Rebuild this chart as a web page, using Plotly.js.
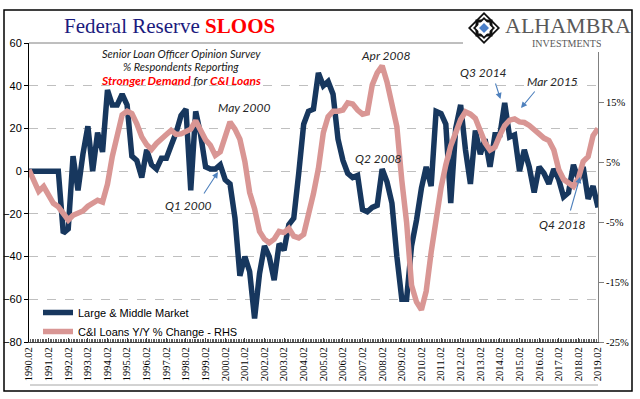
<!DOCTYPE html>
<html><head><meta charset="utf-8">
<script src="https://cdn.plot.ly/plotly-3.0.1.min.js"></script>
<style>html,body{margin:0;padding:0;background:#fff}#chart{width:640px;height:399px}</style>
</head><body><div id="chart"></div>
<script>
// ---- data (quarterly grid starting 1990.02) ----
const startYear = 1990, startMonth = 2, stepMonths = 3;
const seriesNames = ['Large & Middle Market', 'C&I Loans Y/Y % Change - RHS'];
const largeMiddle = [0,0,0,0,0,0,0,-29,-27,7,
  -9,8,21,0,18,9,38,31,31,36,
  31,7,5,-3,10,3,1,6,6,12,
  18,26,29,-9,28,17,2,1,1,3,
  -4,-6,-22,-49,-40,-47,-69,-48,-35,-40,
  -51,-34,-37,-25,-22,-1,22,28,29,46,
  40,42,36,15,5,-1,-3,-2,-18,-19,
  -17,-16,1,-5,-15,-40,-60,-60,-35,-23,
  -8,2,-7,28,27,22,-15,20,31,10,
  -6,19,8,15,2,17,17,32,16,17,
  0,10,2,-10,2,-1,-6,1,-4,-12,
  -10,3,-4,2,-13,-7,-17];
const ciLoansYoY = [3.8,2,0.2,1,-0.4,-1.8,-2.4,-3.7,-4.6,-3.8,
  -3.5,-3.1,-2.3,-1.7,-1.3,-1.6,1.4,6,10,13,
  13.6,13.2,11.5,9.3,8,7.2,8.2,9.1,9.7,10.4,
  9.7,9.8,10.1,10.6,12,10.2,8.8,7.9,6.2,6.8,
  9.3,11.8,10.6,8.9,5.2,0,-2.7,-6.5,-7.8,-8.4,
  -7.8,-6.5,-6.7,-6,-7.3,-7.6,-7,-4,-0.2,4,
  10,12.7,13.6,13.6,13.8,15,14.8,13.8,13.1,13.3,
  18,20,21.2,18.5,14.9,11,2,-5,-15.5,-18.3,
  -19.6,-16.5,-10,-4.5,0.8,4.6,7.8,10,12.2,13.5,
  13.1,12.4,10.5,8.3,7.1,7.6,9.6,11.2,12.1,12.3,
  11.8,11.7,11.2,10.6,9.8,9.1,8.7,7.1,3.8,2.2,
  1.5,1,2.4,5.2,6,9.5,10.7];
const leftTicks = [-80,-60,-40,-20,0,20,40,60];
const rightTicks = [-25,-15,-5,5,15];
const rightTickText = rightTicks.map(v => v + '%');
const xRange = ['1990-02-01','2019-02-01'];

function qDate(i){
  const m = (startMonth-1) + i*stepMonths;
  const y = startYear + Math.floor(m/12);
  const mm = m % 12 + 1;
  return y + '-' + String(mm).padStart(2,'0') + '-01';
}
const datesA = largeMiddle.map((_, i) => qDate(i));
const datesB = ciLoansYoY.map((_, i) => qDate(i));

// ---- geometry helpers (pixel -> paper) ----
const L=29, R=598, T=43, B=342;
const px = X => (X-L)/(R-L), py = Y => (B-Y)/(B-T);

const navy = '#17375E', pink = '#D99694';

const traces = [
  {x: datesA, y: largeMiddle, name: seriesNames[0], type:'scatter', mode:'lines',
   line:{color:navy, width:5.5}, yaxis:'y'},
  {x: datesB, y: ciLoansYoY, name: seriesNames[1], type:'scatter', mode:'lines',
   line:{color:pink, width:5.5}, yaxis:'y2'}
];

const italic = {family:'Lato, "Liberation Sans", sans-serif', size:12, color:'#262626', style:'italic'};
const ann = [];
function txt(t, X, Y, font, extra){ ann.push(Object.assign({text:t, x:px(X), y:py(Y), xref:'paper', yref:'paper', showarrow:false, xanchor:'center', yanchor:'middle', font:font}, extra||{})); }
function arrow(hx, hy, tx, ty){ ann.push({text:'', x:px(hx), y:py(hy), xref:'paper', yref:'paper', showarrow:true, ax:tx-hx, ay:ty-hy, arrowhead:2, arrowsize:1.1, arrowwidth:1.1, arrowcolor:'#4F81BD', standoff:0, startstandoff:0}); }

txt('<span style="color:#1B1B7E">Federal Reserve</span> <b><span style="color:#FF0000">SLOOS</span></b>', 62, 26, {family:'"Liberation Serif", serif', size:21}, {xanchor:'left'});
const subFont = {family:'Lato, sans-serif', size:11, color:'#1a1a1a', style:'italic'};
txt('Senior Loan Officer Opinion Survey', 181, 54, subFont);
txt('% Respondents Reporting', 181, 67, subFont);
txt('<b><span style="color:#FF0000">Stronger Demand</span></b> for <b><span style="color:#FF0000">C&amp;I Loans</span></b>', 181, 80, Object.assign({}, subFont, {size:12}));
txt('ALHAMBRA', 568, 25, {family:'"Liberation Serif", serif', size:22, color:'#595959'}, {height:22});
txt('INVESTMENTS', 566, 43.5, {family:'"Liberation Serif", serif', size:10, color:'#595959'}, {height:11});

txt('May 2000', 244, 108, italic);
txt('Q1 2000', 188, 205, italic);
txt('Apr 2008', 385, 56, italic);
txt('Q2 2008', 378, 158, italic);
txt('Q3 2014', 483, 72, italic);
txt('Mar 2015', 552, 81, italic);
txt('Q4 2018', 562, 224, italic);
arrow(218, 172, 203, 195);
arrow(500.5, 99, 495, 82);
arrow(521, 108, 536, 90);
arrow(580, 177, 570, 212);

function diamond(r){ return `M 0 ${r} L ${r} 0 L 0 ${-r} L ${-r} 0 Z`; }
function square(h){ return `M ${-h} ${-h} L ${h} ${-h} L ${h} ${h} L ${-h} ${h} Z`; }
const lx = px(484), ly = py(28);
function logoShape(path, color){ return {type:'path', xref:'paper', yref:'paper', xsizemode:'pixel', ysizemode:'pixel', xanchor:lx, yanchor:ly, path:path, fillcolor:color, line:{width:0}, layer:'above'}; }

const shapes = [
  {type:'line', xref:'paper', yref:'paper', x0:0, x1:1, y0:1, y1:1, line:{color:'#7F7F7F', width:1}, layer:'above'},
  {type:'line', xref:'paper', yref:'paper', x0:px(30), x1:px(598), y0:py(385), y1:py(385), line:{color:'#A6A6A6', width:1}},
  {type:'rect', xref:'paper', yref:'paper', x0:px(463), x1:px(630), y0:py(52), y1:py(12), fillcolor:'#ffffff', line:{width:0}, layer:'above'},
  logoShape(diamond(16), '#111111'),
  logoShape(diamond(13.5), '#ffffff'),
  logoShape(square(8.5), '#111111'),
  logoShape(diamond(11), '#111111'),
  logoShape(diamond(8.5), '#ffffff'),
  logoShape(square(5.5), '#ffffff'),
  logoShape(diamond(5), '#4A7EC7'),
  {type:'rect', xref:'paper', yref:'paper', x0:px(4), x1:px(632), y0:py(391), y1:py(10), line:{color:'#000000', width:1.5}, layer:'above'}
];

const layout = {
  width:640, height:399,
  margin:{l:L, r:640-R, t:T, b:399-B, pad:0},
  paper_bgcolor:'#ffffff', plot_bgcolor:'#ffffff',
  showlegend:true,
  legend:{x:px(38), y:py(298), xanchor:'left', yanchor:'top', bgcolor:'rgba(0,0,0,0)', borderwidth:0,
    font:{family:'"Liberation Sans", Arial, sans-serif', size:11, color:'#000'}, tracegroupgap:0, itemwidth:30},
  xaxis:{type:'date', range:xRange, tickformat:'%Y.%m', dtick:'M12', tick0:'1990-02-01', tickangle:-90,
    ticks:'inside', ticklen:4, tickcolor:'#404040', showline:true, linecolor:'#404040', linewidth:1,
    minor:{dtick:'M1', ticks:'inside', ticklen:3, tickcolor:'#606060', showgrid:false},
    showgrid:false, zeroline:false, automargin:false,
    tickfont:{family:'"Liberation Serif", serif', size:10.5, color:'#000'}},
  yaxis:{range:[-80,60], tickvals:leftTicks, ticks:'outside', ticklen:4, tickcolor:'#000', showline:true, linecolor:'#000', linewidth:1,
    showgrid:true, gridcolor:'#BFBFBF', griddash:'dash', gridwidth:1, zeroline:false, automargin:false,
    tickfont:{family:'"Liberation Sans", Arial, sans-serif', size:11, color:'#000'}},
  yaxis2:{range:[-25,25], overlaying:'y', side:'right', tickvals:rightTicks, ticktext:rightTickText,
    ticks:'outside', ticklen:5, tickcolor:'#808080', showline:true, linecolor:'#808080', linewidth:1,
    showgrid:false, zeroline:false, automargin:false,
    tickfont:{family:'"Liberation Serif", serif', size:10.5, color:'#000'}},
  annotations:ann,
  shapes:shapes
};

Plotly.newPlot('chart', traces, layout, {displayModeBar:false, staticPlot:true});
</script></body></html>
